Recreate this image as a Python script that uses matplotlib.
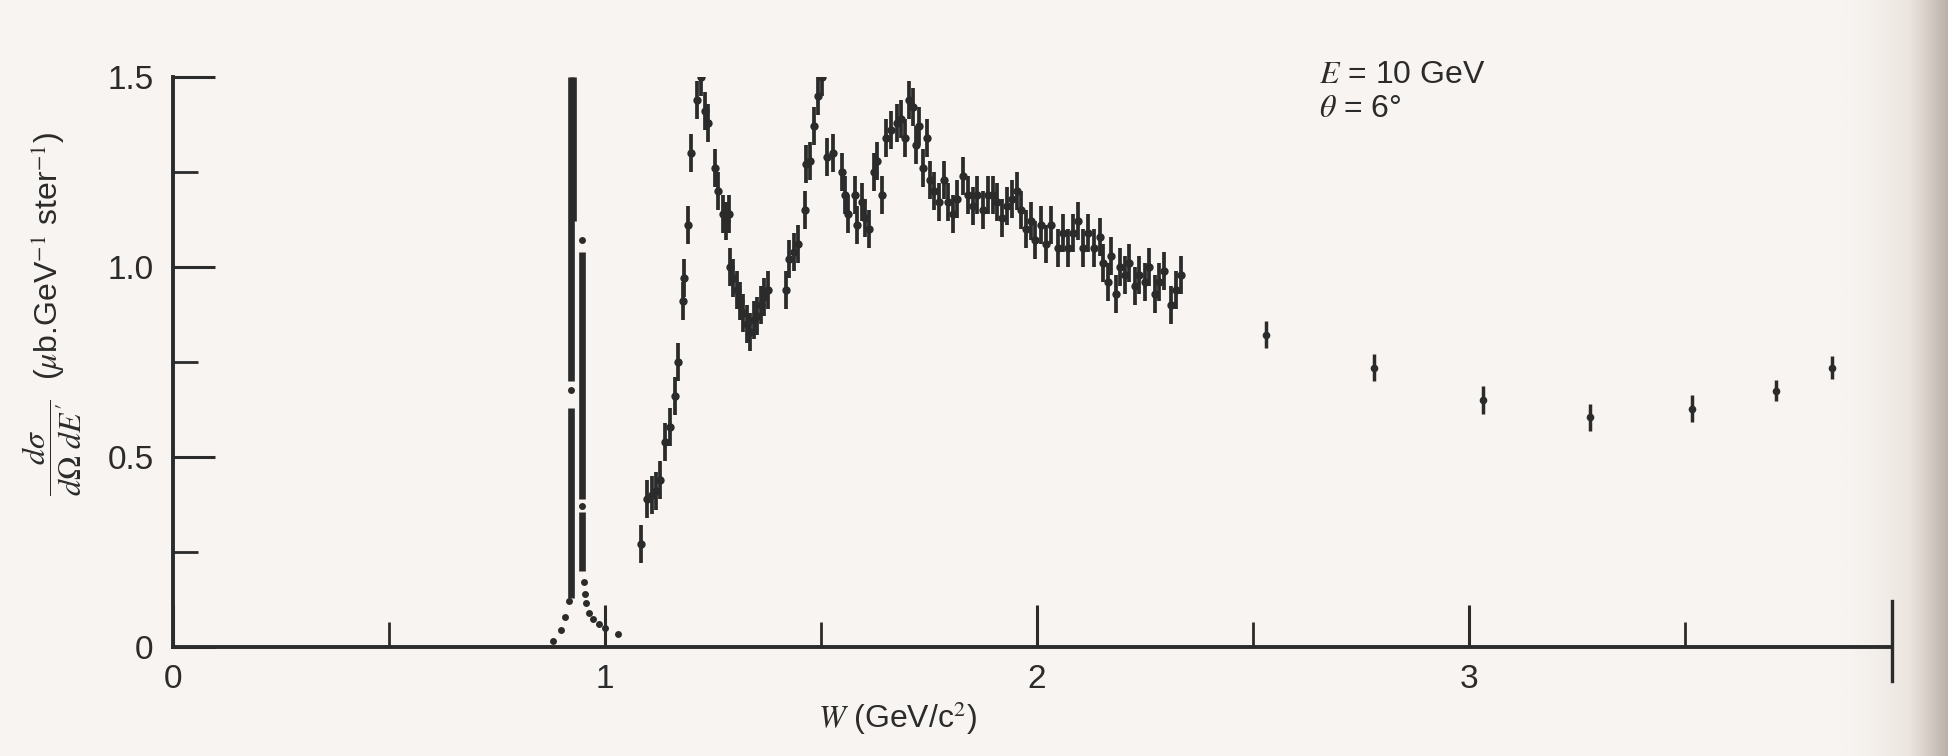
import numpy as np
import matplotlib
matplotlib.use("Agg")
import matplotlib.pyplot as plt
from matplotlib.colors import LinearSegmentedColormap

plt.rcParams['font.family'] = ['Liberation Sans', 'DejaVu Sans']
plt.rcParams['mathtext.fontset'] = 'stix'

INK = '#2b2b2b'
PAPER = '#f7f4f1'

# --- elastic peak (W in GeV/c^2, cross-section in ub GeV^-1 sr^-1) ---
# densely measured strips drawn as solid bands: position, lower and upper value
elastic_strip_w = [0.922, 0.922, 0.925, 0.947, 0.947]
elastic_strip_lo = [0.13, 0.70, 1.12, 0.39, 0.20]
elastic_strip_hi = [0.63, 1.50, 1.50, 1.04, 0.355]
# isolated points on the flanks and radiative tail
elastic_dot_w = [0.880, 0.897, 0.908, 0.916, 0.922, 0.947, 0.947, 0.951,
                 0.953, 0.955, 0.962, 0.972, 0.985, 1.000, 1.030]
elastic_dot_y = [0.015, 0.045, 0.080, 0.120, 0.677, 1.070, 0.370, 0.170,
                 0.140, 0.115, 0.090, 0.075, 0.060, 0.050, 0.035]

# --- resonance region ---
res_w = [1.083, 1.098, 1.108, 1.118, 1.128, 1.140, 1.150, 1.162, 1.170, 1.180,
         1.184, 1.192, 1.199, 1.214, 1.222, 1.232, 1.238, 1.254, 1.262, 1.272,
         1.280, 1.286, 1.290, 1.297, 1.305, 1.312, 1.320, 1.328, 1.336, 1.344,
         1.352, 1.360, 1.368, 1.378, 1.418, 1.425, 1.437, 1.447, 1.462, 1.466,
         1.474, 1.484, 1.492, 1.503, 1.514, 1.528, 1.548, 1.556, 1.562, 1.578,
         1.584, 1.594, 1.603, 1.612, 1.622, 1.630, 1.642, 1.650, 1.662, 1.675,
         1.685, 1.695, 1.703, 1.712, 1.720, 1.728, 1.736, 1.745, 1.752, 1.762,
         1.772, 1.784, 1.795, 1.805, 1.815, 1.828, 1.840, 1.852, 1.862, 1.875,
         1.887, 1.898, 1.908, 1.918, 1.930, 1.941, 1.953, 1.964, 1.975, 1.987,
         1.995, 2.010, 2.021, 2.033, 2.049, 2.060, 2.072, 2.083, 2.095, 2.106,
         2.118, 2.133, 2.145, 2.153, 2.164, 2.172, 2.183, 2.191, 2.203, 2.214,
         2.226, 2.237, 2.249, 2.260, 2.272, 2.283, 2.295, 2.311, 2.322, 2.334]
res_xs = [0.27, 0.39, 0.40, 0.41, 0.44, 0.54, 0.58, 0.66, 0.75, 0.91,
          0.97, 1.11, 1.30, 1.44, 1.50, 1.41, 1.38, 1.26, 1.20, 1.14,
          1.12, 1.14, 1.00, 0.97, 0.94, 0.91, 0.88, 0.85, 0.83, 0.86,
          0.87, 0.90, 0.92, 0.94, 0.94, 1.02, 1.04, 1.06, 1.15, 1.27,
          1.28, 1.37, 1.45, 1.50, 1.29, 1.30, 1.25, 1.19, 1.14, 1.19,
          1.11, 1.17, 1.13, 1.10, 1.25, 1.28, 1.19, 1.34, 1.36, 1.38,
          1.39, 1.34, 1.44, 1.42, 1.32, 1.37, 1.26, 1.34, 1.23, 1.20,
          1.17, 1.23, 1.17, 1.14, 1.18, 1.24, 1.19, 1.16, 1.19, 1.15,
          1.19, 1.19, 1.17, 1.13, 1.16, 1.18, 1.20, 1.15, 1.10, 1.12,
          1.07, 1.11, 1.06, 1.11, 1.05, 1.09, 1.05, 1.09, 1.12, 1.05,
          1.09, 1.05, 1.08, 1.01, 0.96, 1.03, 0.93, 1.00, 0.98, 1.01,
          0.95, 0.98, 0.96, 1.00, 0.93, 0.96, 0.99, 0.90, 0.94, 0.98]
res_err = 0.05

# --- deep inelastic region, sparse measurements ---
dis_w = [2.531, 2.780, 3.032, 3.281, 3.517, 3.711, 3.840]
dis_xs = [0.822, 0.735, 0.650, 0.604, 0.627, 0.675, 0.735]
dis_err = [0.035, 0.035, 0.037, 0.035, 0.035, 0.028, 0.030]

W_MAX = 3.98

fig = plt.figure(figsize=(19.48, 7.56), dpi=100, facecolor=PAPER)

# darkened page edge on the right
shade = fig.add_axes([0.945, 0.0, 0.055, 1.0], zorder=0)
shade_cmap = LinearSegmentedColormap.from_list('edge', [PAPER, '#ece5df', '#b9afa8'])
shade.imshow(np.linspace(0, 1, 200)[None, :] ** 1.5, aspect='auto', cmap=shade_cmap,
             extent=[0, 1, 0, 1])
shade.set_axis_off()

ax = fig.add_axes([173 / 1948, 1 - 647 / 756, W_MAX * 432 / 1948, (647 - 77) / 756],
                  zorder=1)
ax.patch.set_alpha(0)

# elastic peak
ax.vlines(elastic_strip_w, elastic_strip_lo, elastic_strip_hi, color=INK, lw=4.8)
ax.plot(elastic_dot_w, elastic_dot_y, 'o', color=INK, ms=5, mec='none')

# resonance and continuum data
ax.errorbar(res_w, res_xs, yerr=res_err, xerr=0.006, fmt='o', ms=6, color=INK,
            mec='none', elinewidth=2.7, capsize=0)
ax.errorbar(dis_w, dis_xs, yerr=dis_err, xerr=0.004, fmt='o', ms=5.5, color=INK,
            mec='none', elinewidth=2.5, capsize=0)

ax.set_xlim(0, W_MAX)
ax.set_ylim(0, 1.5)

for side in ('top', 'right'):
    ax.spines[side].set_visible(False)
for side in ('left', 'bottom'):
    ax.spines[side].set_linewidth(2.8)
    ax.spines[side].set_color(INK)

ax.set_xticks([0, 1, 2, 3])
ax.set_xticklabels(['0', '1', '2', '3'])
ax.set_xticks([0.5, 1.5, 2.5, 3.5], minor=True)
ax.set_yticks([0, 0.5, 1.0, 1.5])
ax.set_yticklabels(['0', '0.5', '1.0', '1.5'])
ax.set_yticks([0.25, 0.75, 1.25], minor=True)

ax.tick_params(which='major', direction='in', length=30, width=2.2, color=INK,
               labelsize=24, labelcolor=INK)
ax.tick_params(which='minor', direction='in', length=18, width=2.0, color=INK)
ax.tick_params(axis='x', which='major', pad=12)
ax.tick_params(axis='y', which='major', pad=14)

# closing tick at the end of the W axis
ax.axvline(W_MAX, ymin=-0.06, ymax=0.08, color=INK, lw=2.4, clip_on=False)

# kinematics
ax.text(2.653, 1.505, r'$E$ = 10 GeV', fontsize=23, color=INK, va='center', ha='left')
ax.text(2.653, 1.416, r'$\theta$ = 6°', fontsize=23, color=INK, va='center', ha='left')

fig.text(897 / 1948, 1 - 718 / 756, r'$W$ (GeV/c$^2$)', fontsize=23, color=INK,
         ha='center', va='center')
fig.text(0.027, 0.585,
         r'$\dfrac{d\sigma}{d\Omega\ dE^{\prime}}$  ($\mu$b.GeV$^{-1}$ ster$^{-1}$)',
         rotation=90, fontsize=23, color=INK, ha='center', va='center')

fig.savefig('out.png', dpi=100, facecolor=PAPER)
